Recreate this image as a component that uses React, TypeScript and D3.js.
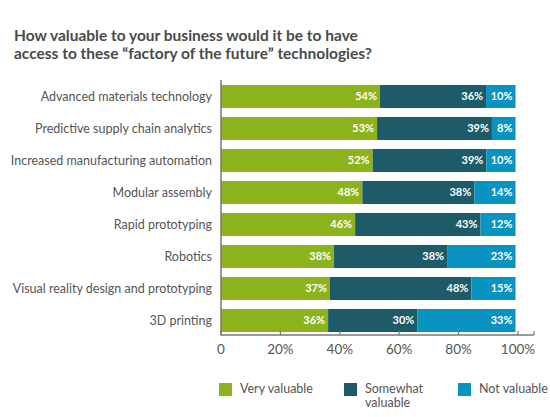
import React from 'react';
import * as d3 from 'd3';

// 数据
const categories = [
  'Advanced materials technology',
  'Predictive supply chain analytics',
  'Increased manufacturing automation',
  'Modular assembly',
  'Rapid prototyping',
  'Robotics',
  'Visual reality design and prototyping',
  '3D printing',
];
const veryValuable = [54, 53, 52, 48, 46, 38, 37, 36];
const somewhatValuable = [36, 39, 39, 38, 43, 38, 48, 30];
const notValuable = [10, 8, 10, 14, 12, 23, 15, 33];
const seriesNames = ['Very valuable', 'Somewhat\nvaluable', 'Not valuable'];
const tickValues = [0, 20, 40, 60, 80, 100];

const colors = ['#8cb21c', '#1d5b68', '#0993c0'];
const font = 'Lato, sans-serif';

const width = 550;
const height = 417;
const marginLeft = 221;
const plotRight = 518;
const barRight = 515.5;
const plotTop = 85;
const rowStep = 32;
const axisY = 335;

const App: React.FC = () => {
  const x = d3.scaleLinear().domain([0, 100]).range([marginLeft, plotRight]);
  // 条形比例尺：按比例堆叠后每行同长
  const xBar = d3.scaleLinear().domain([0, 1]).range([marginLeft, barRight]);
  const y = d3
    .scaleBand()
    .domain(categories)
    .range([plotTop - 4.5, plotTop - 4.5 + rowStep * categories.length])
    .paddingInner(0.28)
    .paddingOuter(0.14);

  const table = categories.map((c, i) => ({
    name: c,
    v0: veryValuable[i],
    v1: somewhatValuable[i],
    v2: notValuable[i],
  }));
  const stacked = d3
    .stack<any>()
    .keys(['v0', 'v1', 'v2'])
    .offset(d3.stackOffsetExpand)(table);

  return (
    <svg width={width} height={height} style={{ position: 'absolute', left: 0, top: 0 }}>
      <rect width={width} height={height} fill="#fff" />
      <text x={14} y={41} fontFamily={font} fontWeight="bold" fontSize={15.5} fill="#4a4a4a">
        How valuable to your business would it be to have
      </text>
      <text x={14} y={59} fontFamily={font} fontWeight="bold" fontSize={15.5} fill="#4a4a4a">
        access to these “factory of the future” technologies?
      </text>

      {table.map((r) => (
        <text
          key={r.name}
          x={212}
          y={(y(r.name) || 0) + y.bandwidth() / 2}
          dy="0.35em"
          textAnchor="end"
          fontFamily={font}
          fontSize={12.5}
          fill="#555"
        >
          {r.name}
        </text>
      ))}

      {stacked.map((layer, j) => (
        <g key={layer.key}>
          {layer.map((d) => {
            const yy = y(d.data.name) || 0;
            const bh = y.bandwidth();
            const x0 = xBar(d[0]);
            const x1 = xBar(d[1]);
            return (
              <g key={d.data.name}>
                <rect x={x0} y={yy} width={x1 - x0} height={bh} fill={colors[j]} />
                <text
                  x={x1 - 3}
                  y={yy + bh / 2}
                  dy="0.35em"
                  textAnchor="end"
                  fontFamily={font}
                  fontWeight="bold"
                  fontSize={11}
                  fill="#fff"
                >
                  {d.data[layer.key]}%
                </text>
              </g>
            );
          })}
        </g>
      ))}

      {/* axes */}
      <line x1={marginLeft} x2={marginLeft} y1={80} y2={axisY + 0.5} stroke="#777" strokeWidth={1.5} />
      <line x1={marginLeft} x2={534} y1={axisY} y2={axisY} stroke="#777" strokeWidth={1.5} />
      {tickValues.map((t) => (
        <g key={t}>
          <line x1={x(t)} x2={x(t)} y1={axisY} y2={axisY - 4} stroke="#777" strokeWidth={1.2} />
          <text
            x={x(t)}
            y={349}
            dy="0.35em"
            textAnchor="middle"
            fontFamily={font}
            fontSize={13.5}
            fill="#555"
          >
            {t === 0 ? '0' : `${t}%`}
          </text>
        </g>
      ))}
      <line x1={534} x2={534} y1={axisY} y2={axisY - 4} stroke="#777" strokeWidth={1.2} />

      {/* legend */}
      {seriesNames.map((s, i) => {
        const lx = [219, 344, 458][i];
        return (
          <g key={s}>
            <rect x={lx} y={383} width={13} height={13} fill={colors[i]} />
            {s.split('\n').map((line, k) => (
              <text
                key={k}
                x={lx + 21}
                y={389 + k * 14}
                dy="0.35em"
                fontFamily={font}
                fontSize={12.5}
                fill="#555"
              >
                {line}
              </text>
            ))}
          </g>
        );
      })}
    </svg>
  );
};

export default App;
